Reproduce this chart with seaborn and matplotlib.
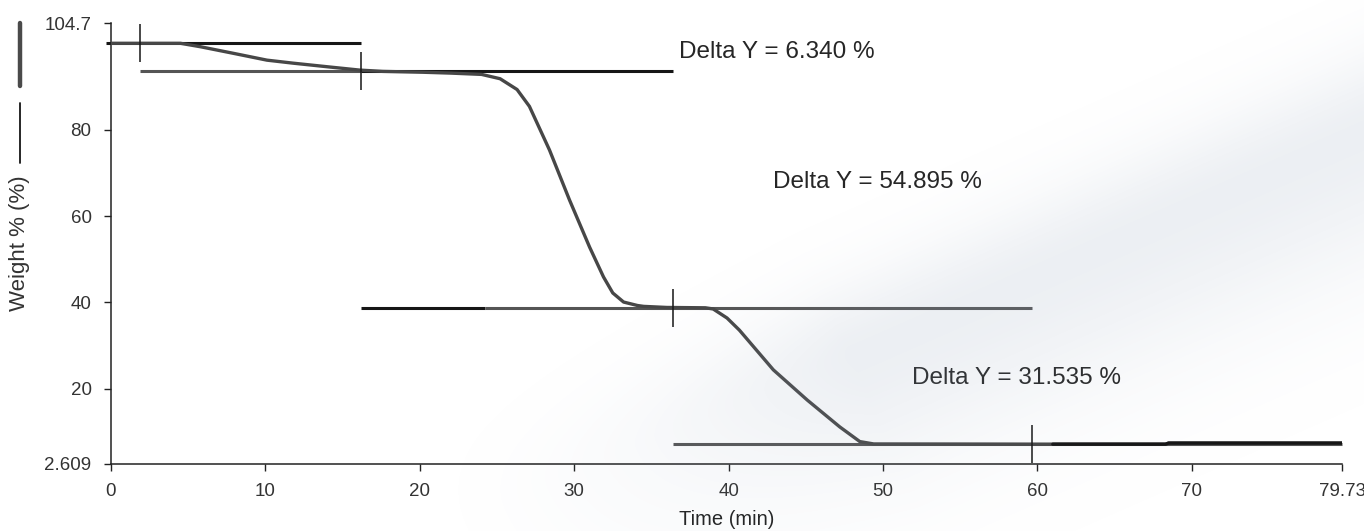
import numpy as np
import pandas as pd
import matplotlib
matplotlib.use("Agg")
import matplotlib.pyplot as plt
import seaborn as sns
from matplotlib.lines import Line2D

# ---- data ----
time_min = [0.0, 1.9, 4.5, 5.8, 7.9, 10.1, 11.8, 14.2, 16.1, 17.6, 20.2, 22.0,
            24.0, 25.2, 26.3, 27.1, 28.4, 29.7, 31.0, 31.9, 32.5, 33.2, 34.1,
            34.5, 36.0, 38.5, 39.0, 39.9, 40.7, 42.9, 45.1, 47.2, 48.5, 49.4,
            55.0, 61.0, 68.3, 68.5, 79.73]
weight_pct = [100.0, 100.0, 100.0, 99.2, 97.7, 96.1, 95.4, 94.5, 93.8, 93.5,
              93.3, 93.1, 92.8, 91.8, 89.3, 85.4, 75.3, 63.7, 52.8, 45.9, 42.2,
              40.1, 39.3, 39.1, 38.85, 38.77, 38.5, 36.4, 33.6, 24.4, 17.4,
              11.2, 7.8, 7.25, 7.23, 7.2, 7.2, 7.45, 7.45]

step_limits = [1.9, 16.2, 36.4, 59.65]
step_levels = [100.0, 93.66, 38.765, 7.23]

hline_y = [100.0, 93.66, 93.66, 38.765, 38.765, 7.23]
hline_x0 = [-0.3, 1.9, 16.2, 16.2, 24.2, 36.4]
hline_x1 = [16.2, 16.2, 36.4, 24.2, 59.65, 79.73]
hline_dark = [True, False, True, True, False, False]

delta_labels = ["Delta Y = 6.340 %", "Delta Y = 54.895 %", "Delta Y = 31.535 %"]
delta_x = [36.8, 42.9, 51.9]
delta_y = [98.0, 67.8, 22.5]

x_ticks = [0, 10, 20, 30, 40, 50, 60, 70, 79.73]
x_tick_labels = ["0", "10", "20", "30", "40", "50", "60", "70", "79.73"]
y_ticks = [2.609, 20, 40, 60, 80, 104.7]
y_tick_labels = ["2.609", "20", "40", "60", "80", "104.7"]

# ---- style ----
sns.set_style("ticks")
plt.rcParams["font.family"] = ["Liberation Sans", "DejaVu Sans"]

BLACK = "#161616"
GRAY = "#555555"
CURVE = "#474747"

W, H = 1364, 531
fig = plt.figure(figsize=(W / 100, H / 100), dpi=100)

# faint scanned-paper swoosh in the background (decoration only)
yy, xx = np.mgrid[0:H, 0:W].astype(float)
p0 = np.array([430.0, 540.0])
p1 = np.array([1364.0, 130.0])
d = p1 - p0
L = np.hypot(*d)
u = d / L
nrm = np.array([-u[1], u[0]])
rx, ry = xx - p0[0], yy - p0[1]
t = (rx * u[0] + ry * u[1]) / L
dist = rx * nrm[0] + ry * nrm[1]
sig = np.where(dist < 0, 70.0, 130.0)
band = np.exp(-(dist / sig) ** 2) * np.clip(t / 0.45, 0, 1) ** 1.5
alpha = 0.16 * band
img = np.zeros((H, W, 4))
img[..., 0] = 0.55
img[..., 1] = 0.62
img[..., 2] = 0.72
img[..., 3] = alpha
fig.figimage(img, xo=0, yo=0, origin="upper", zorder=0)

ax = fig.add_axes([111 / W, 1 - 464 / H, (1342 - 111) / W, (464 - 23) / H])
ax.patch.set_alpha(0)

df = pd.DataFrame({"Time (min)": time_min, "Weight %": weight_pct})

# horizontal step lines
for y0, xa, xb, dark in zip(hline_y, hline_x0, hline_x1, hline_dark):
    ax.hlines(y0, xa, xb, color=BLACK if dark else GRAY, lw=2.2, zorder=2,
              clip_on=False)

# main curve
sns.lineplot(data=df, x="Time (min)", y="Weight %", ax=ax, color=CURVE,
             lw=2.4, zorder=3, sort=False)
tail = df[df["Time (min)"] >= 61.0]
sns.lineplot(data=tail, x="Time (min)", y="Weight %", ax=ax, color=BLACK,
             lw=2.4, zorder=4, sort=False)

# step limit markers
half = 4.4
for xl, yl in zip(step_limits, step_levels):
    ax.vlines(xl, yl - half, yl + half, color=BLACK, lw=1.1, zorder=5)

for lab, xx_, yy_ in zip(delta_labels, delta_x, delta_y):
    ax.text(xx_, yy_, lab, ha="left", va="center", fontsize=17.5, color="#262626")

ax.set_xlim(0, 79.73)
ax.set_ylim(2.609, 104.7)
ax.set_xticks(x_ticks)
ax.set_xticklabels(x_tick_labels)
ax.set_yticks(y_ticks)
ax.set_yticklabels(y_tick_labels)
ax.tick_params(axis="both", length=5, width=1.0, color="#222222",
               labelsize=13.5, labelcolor="#333333")
ax.tick_params(axis="x", pad=9)
ax.tick_params(axis="y", pad=9)
sns.despine(ax=ax)
for s in ["left", "bottom"]:
    ax.spines[s].set_linewidth(1.1)
    ax.spines[s].set_color("#222222")

ax.set_xlabel("Time (min)", fontsize=14.5, color="#222222")
ax.set_ylabel("Weight % (%)", fontsize=16, color="#333333")
ax.xaxis.set_label_coords(0.5, -0.105)
ax.xaxis.label.set_va("top")
ax.yaxis.set_label_coords(-0.066, 0.5)

# legend-like marks beside the y label
fig.add_artist(Line2D([20 / W, 20 / W], [1 - 23 / H, 1 - 86 / H],
                      color="#4a4a4a", lw=3.2, transform=fig.transFigure))
fig.add_artist(Line2D([20 / W, 20 / W], [1 - 103 / H, 1 - 163 / H],
                      color=BLACK, lw=1.3, transform=fig.transFigure))

fig.savefig("out.png", dpi=100)
